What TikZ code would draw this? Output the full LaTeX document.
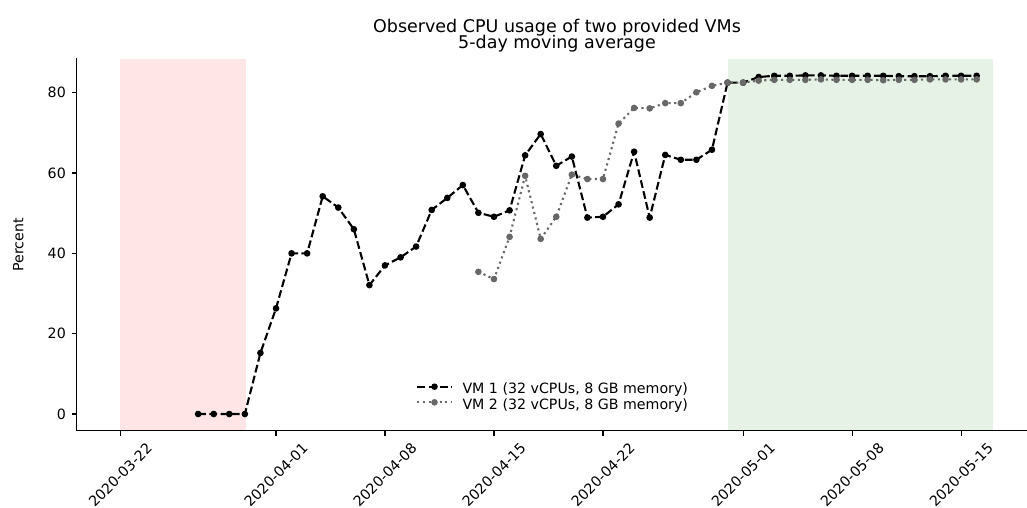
\documentclass[tikz,border=0pt]{standalone}
\usepackage{fontspec}
\setmainfont{DejaVu Sans}
\definecolor{spanred}{HTML}{FFE5E5}
\definecolor{spangreen}{HTML}{E5F2E5}
\definecolor{vmgray}{HTML}{686868}
\tikzset{
  axisline/.style={line width=1.1pt, black, line cap=rect},
  tickmark/.style={line width=1.1pt, black},
  ticklab/.style={font=\fontsize{14.2}{17}\selectfont, inner sep=0pt},
  titlelab/.style={font=\fontsize{17.5}{20}\selectfont, inner sep=0pt},
  vmone/.style={line width=2.1pt, black, line join=round, dash pattern=on 7.8pt off 3.4pt,
    mark=*, mark size=2.6pt, mark options={solid, fill=black, draw=black, line width=1.4pt}},
  vmtwo/.style={line width=2.1pt, vmgray, line join=round, dash pattern=on 2.1pt off 3.5pt,
    mark=*, mark size=2.6pt, mark options={solid, fill=vmgray, draw=vmgray, line width=1.4pt}},
  dotone/.style={circle, fill=black, inner sep=0pt, minimum size=6.6pt},
  dottwo/.style={circle, fill=vmgray, inner sep=0pt, minimum size=6.6pt},
}
\begin{document}
\begin{tikzpicture}[x=1pt,y=-1pt]
\useasboundingbox (0,0) rectangle (1027,507);
% data scope: x in days since 2020-03-22, y in percent
\begin{scope}[shift={(120.3,414)}, x=15.57pt, y=4.0167pt]
  \fill[spanred] (0,-4.2) rectangle (8.07,88.4);
  \fill[spangreen] (39,-4.2) rectangle (56.03,88.4);
  \draw[vmone] plot coordinates {
    (5,0) (6,0) (7,0) (8,0) (9,15.2) (10,26.3) (11,40.0) (12,40.0) (13,54.2)
    (14,51.4) (15,46.0) (16,32.1) (17,37.0) (18,39.0) (19,41.7) (20,50.8)
    (21,53.8) (22,57.0) (23,50.1) (24,49.1) (25,50.7) (26,64.4) (27,69.7)
    (28,61.8) (29,64.1) (30,48.9) (31,49.1) (32,52.2) (33,65.3) (34,48.9)
    (35,64.5) (36,63.3) (37,63.3) (38,65.8) (39,82.5) (40,82.5) (41,83.9)
    (42,84.2) (43,84.2) (44,84.3) (45,84.3) (46,84.2) (47,84.2) (48,84.2)
    (49,84.2) (50,84.1) (51,84.1) (52,84.1) (53,84.2) (54,84.2) (55,84.2)};
  \draw[vmtwo] plot coordinates {
    (23,35.4) (24,33.6) (25,44.1) (26,59.3) (27,43.6) (28,49.1) (29,59.6)
    (30,58.5) (31,58.5) (32,72.3) (33,76.2) (34,76.1) (35,77.4) (36,77.4)
    (37,80.1) (38,81.7) (39,82.5) (40,82.5) (41,83.0) (42,83.2) (43,83.2)
    (44,83.2) (45,83.3) (46,83.2) (47,83.2) (48,83.2) (49,83.1) (50,83.2)
    (51,83.2) (52,83.3) (53,83.3) (54,83.3) (55,83.3)};
\end{scope}
% spines
\coordinate (origin) at (76.7,430.9);
\coordinate (ytop) at (76.7,58.9);
\coordinate (xend) at (1027,430.9);
\draw[axisline] (ytop) -- (origin) -- (xend);
% x ticks
\foreach \d/\lab in {0/2020-03-22, 10/2020-04-01, 17/2020-04-08, 24/2020-04-15,
                     31/2020-04-22, 40/2020-05-01, 47/2020-05-08, 54/2020-05-15} {
  \coordinate (xtk\d) at ({120.3+15.57*\d}, 430.9);
  \draw[tickmark] (xtk\d) -- ++(0,4.9);
  \node[ticklab, rotate=45] (xtl\d) at ({120.3+15.57*\d}, 475) {\lab};
}
% y ticks
\foreach \v in {0,20,40,60,80} {
  \coordinate (ytk\v) at (76.7, {414-4.0167*\v});
  \draw[tickmark] (ytk\v) -- ++(-4.9,0);
  \node[ticklab, anchor=east] (ytl\v) at (66, {414-4.0167*\v}) {\v};
}
\node[ticklab, rotate=90, anchor=base] (ylabel) at (23.3,244.9) {Percent};
% title
\node[titlelab, anchor=base] (title1) at (557,32) {Observed CPU usage of two provided VMs};
\node[titlelab, anchor=base] (title2) at (557,48) {5-day moving average};
% legend
\coordinate (l1a) at (417.3,386.7);
\coordinate (l1b) at (451.7,386.7);
\coordinate (l2a) at (417.3,402.3);
\coordinate (l2b) at (451.7,402.3);
\draw[vmone, mark=none] (l1a) -- (l1b);
\node[dotone] (m1) at (434.5,386.7) {};
\draw[vmtwo, mark=none] (l2a) -- (l2b);
\node[dottwo] (m2) at (434.5,402.3) {};
\node[ticklab, anchor=base west] (leg1) at (462.3,393.5) {VM 1 (32 vCPUs, 8 GB memory)};
\node[ticklab, anchor=base west] (leg2) at (462.3,409.2) {VM 2 (32 vCPUs, 8 GB memory)};
\end{tikzpicture}
\end{document}
